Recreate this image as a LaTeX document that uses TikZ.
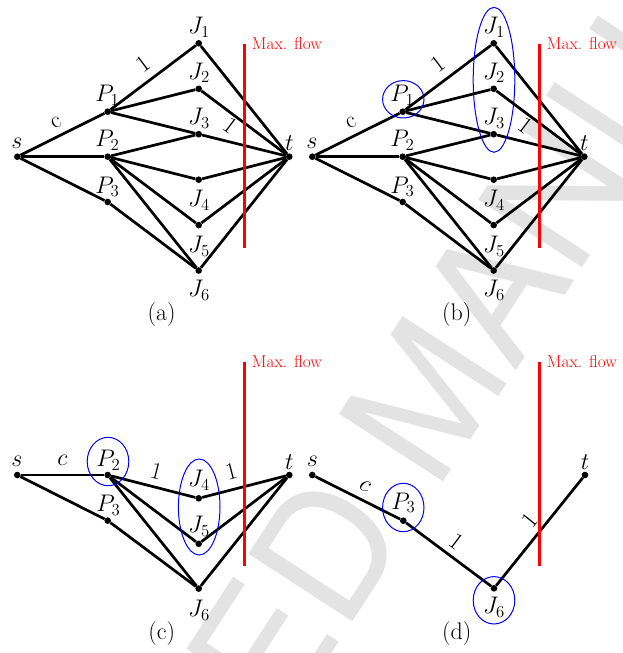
\RequirePackage{fix-cm}
\documentclass[tikz,border=0pt]{standalone}
\usepackage{fontspec}
\newfontfamily\wmfont{TeX Gyre Heros}
\tikzset{
  vtx/.style={circle,fill=black,draw=none,inner sep=0pt,minimum size=6.6pt},
  edge/.style={line width=2.7pt},
  lab/.style={inner sep=0pt,font=\fontsize{24}{28}\selectfont},
  elab/.style={inner sep=0pt,sloped,font=\fontsize{24}{28}\selectfont},
  cut/.style={red,line width=3.2pt},
  cutlab/.style={red,anchor=base west,inner sep=0pt,font=\fontsize{17.3}{20}\selectfont},
  grp/.style={blue,line width=1pt},
  wm/.style={black!11,inner sep=0pt,font=\wmfont\fontsize{170}{170}\selectfont}
}
\newcommand\panelAB{%
  \node[vtx] (s)  at (17.3,156.7) {};
  \node[vtx] (P1) at (107.7,111.7) {};
  \node[vtx] (P2) at (107.7,156.7) {};
  \node[vtx] (P3) at (107.7,202) {};
  \node[vtx] (J1) at (198.7,43.3) {};
  \node[vtx] (J2) at (198.7,88.8) {};
  \node[vtx] (J3) at (198.7,134.2) {};
  \node[vtx] (J4) at (198.7,179.7) {};
  \node[vtx] (J5) at (198.7,225.1) {};
  \node[vtx] (J6) at (198.7,270.5) {};
  \node[vtx] (t)  at (289.3,156.7) {};
  \draw[edge] (s) -- (P1) node[elab,pos=.5,yshift=13.4pt] (lc) {c};
  \draw[edge] (s) -- (P2);
  \draw[edge] (s) -- (P3);
  \draw[edge] (P1) -- (J1) node[elab,pos=.5,yshift=17pt] (l1) {1};
  \draw[edge] (P1) -- (J2);
  \draw[edge] (P1) -- (J3);
  \draw[edge] (P2) -- (J3);
  \draw[edge] (P2) -- (J4);
  \draw[edge] (P2) -- (J5);
  \draw[edge] (P2) -- (J6);
  \draw[edge] (P3) -- (J6);
  \draw[edge] (J1) -- (t);
  \draw[edge] (J2) -- (t) node[elab,pos=.41,yshift=-10pt] (l2) {1};
  \draw[edge] (J3) -- (t);
  \draw[edge] (J4) -- (t);
  \draw[edge] (J5) -- (t);
  \draw[edge] (J6) -- (t);
  \node[lab] (sl) at (17,143.3) {$s$};
  \node[lab] (tl) at (289.3,142.7) {$t$};
  \node[lab] (P1l) at (107.3,95) {$P_1$};
  \node[lab] (P2l) at (107.3,140) {$P_2$};
  \node[lab] (P3l) at (107.3,186.7) {$P_3$};
  \node[lab] (J1l) at (199,27.3) {$J_1$};
  \node[lab] (J2l) at (199,72.7) {$J_2$};
  \node[lab] (J3l) at (199,118.3) {$J_3$};
  \node[lab] (J4l) at (199,200) {$J_4$};
  \node[lab] (J5l) at (199,246) {$J_5$};
  \node[lab] (J6l) at (199,290) {$J_6$};
  \coordinate (cutT) at (244.3,44);
  \coordinate (cutB) at (244.3,247.7);
  \draw[cut] (cutT) -- (cutB);
  \node[cutlab] (mf) at (251.7,49.3) {Max. flow};
}
\begin{document}
\begin{tikzpicture}[x=1pt,y=-1pt]
\useasboundingbox (0,0) rectangle (622,653);
\begin{scope}
\clip (0,0) rectangle (622,653);
\node[wm,rotate=57,anchor=base west] (wmark) at (-89.8,1303.4) {ACCEPTED MANUSCRIPT};
\end{scope}
% (a)
\begin{scope}[name prefix=a-]
  \panelAB
  \node[lab] (cap) at (161.7,315) {(a)};
\end{scope}
% (b)
\begin{scope}[xshift=295pt,name prefix=b-]
  \panelAB
  \node[lab] (cap) at (161.7,315) {(b)};
  \draw[grp] (108.3,99.3) ellipse [x radius=20.7pt, y radius=18.7pt];
  \draw[grp] (199,79.8) ellipse [x radius=20.8pt, y radius=72.5pt];
\end{scope}
% (c)
\begin{scope}[name prefix=c-]
  \node[vtx] (s)  at (17.3,475) {};
  \node[vtx] (P2) at (107.7,475) {};
  \node[vtx] (P3) at (107.7,520.6) {};
  \node[vtx] (J4) at (198.7,498.3) {};
  \node[vtx] (J5) at (198.7,543.8) {};
  \node[vtx] (J6) at (198.7,588.6) {};
  \node[vtx] (t)  at (289.3,475) {};
  \draw[edge] (s) -- (P2) node[elab,pos=.5,yshift=15pt] (lc) {$c$};
  \draw[edge] (s) -- (P3);
  \draw[edge] (P3) -- (J6);
  \draw[edge] (P2) -- (J4) node[elab,pos=.49,yshift=16.2pt] (l1) {1};
  \draw[edge] (P2) -- (J5);
  \draw[edge] (P2) -- (J6);
  \draw[edge] (J4) -- (t) node[elab,pos=.4,yshift=17.8pt] (l2) {1};
  \draw[edge] (J5) -- (t);
  \draw[edge] (J6) -- (t);
  \node[lab] (sl) at (17,461.7) {$s$};
  \node[lab] (tl) at (289.3,461.7) {$t$};
  \node[lab] (P2l) at (108.3,460) {$P_2$};
  \node[lab] (P3l) at (108.3,505) {$P_3$};
  \node[lab] (J4l) at (199,480) {$J_4$};
  \node[lab] (J5l) at (199,526) {$J_5$};
  \node[lab] (J6l) at (199,610) {$J_6$};
  \coordinate (cutT) at (244.3,362.3);
  \coordinate (cutB) at (244.3,565.7);
  \draw[cut] (cutT) -- (cutB);
  \node[cutlab] (mf) at (251.7,367.6) {Max. flow};
  \draw[grp] (108,461.5) ellipse [x radius=20.8pt, y radius=24.2pt];
  \draw[grp] (199.2,507) ellipse [x radius=20.8pt, y radius=48pt];
  \node[lab] (cap) at (161.7,633.3) {(c)};
\end{scope}
% (d)
\begin{scope}[name prefix=d-]
  \node[vtx] (s)  at (312.3,475) {};
  \node[vtx] (P3) at (403.3,520.7) {};
  \node[vtx] (J6) at (494,588.3) {};
  \node[vtx] (t)  at (585,475) {};
  \draw[edge] (s) -- (P3) node[elab,pos=.51,yshift=14pt] (lc) {$c$};
  \draw[edge] (P3) -- (J6) node[elab,pos=.49,yshift=15pt] (l1) {1};
  \draw[edge] (J6) -- (t) node[elab,pos=.52,yshift=15.3pt] (l2) {1};
  \node[lab] (sl) at (312.3,461.7) {$s$};
  \node[lab] (tl) at (585,461.7) {$t$};
  \node[lab] (P3l) at (403.3,502.7) {$P_3$};
  \node[lab] (J6l) at (494,607.3) {$J_6$};
  \coordinate (cutT) at (539.3,362.3);
  \coordinate (cutB) at (539.3,565.7);
  \draw[cut] (cutT) -- (cutB);
  \node[cutlab] (mf) at (546.7,367.6) {Max. flow};
  \draw[grp] (403.3,507.5) ellipse [x radius=20.7pt, y radius=24.2pt];
  \draw[grp] (494,600.3) ellipse [x radius=20.8pt, y radius=23.7pt];
  \node[lab] (cap) at (456.7,633.3) {(d)};
\end{scope}
\end{tikzpicture}
\end{document}
